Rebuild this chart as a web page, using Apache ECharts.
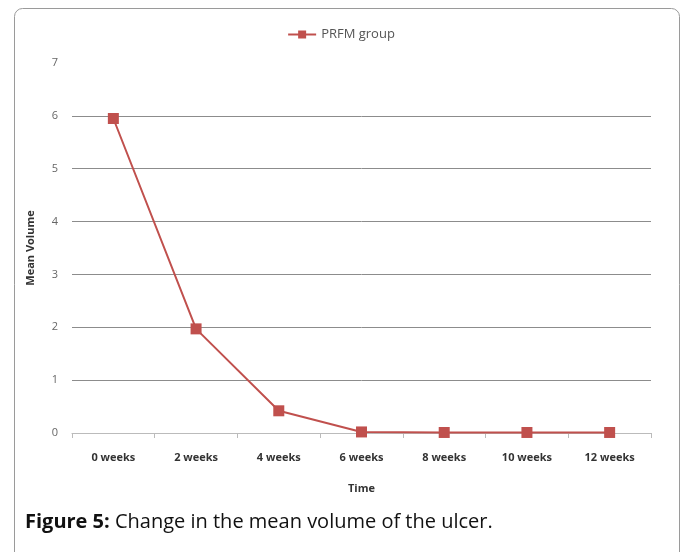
<!DOCTYPE html>
<html>
<head>
<meta charset="utf-8">
<script src="https://cdn.jsdelivr.net/npm/echarts@6/dist/echarts.min.js"></script>
<style>
  html, body { margin: 0; padding: 0; background: #fff; }
  #chart { width: 682px; height: 552px; }
</style>
</head>
<body>
<div id="chart"></div>
<script>
// data
const categories = ['0 weeks', '2 weeks', '4 weeks', '6 weeks', '8 weeks', '10 weeks', '12 weeks'];
const prfmValues = [5.95, 1.97, 0.42, 0.02, 0.01, 0.01, 0.01];
const seriesName = 'PRFM group';

const red = '#c0504d';
const font = '"Open Sans", "Liberation Sans", sans-serif';

const chart = echarts.init(document.getElementById('chart'), null, { renderer: 'canvas' });

chart.setOption({
  animation: false,
  textStyle: { fontFamily: font },
  graphic: [
    {
      // outer frame
      type: 'rect',
      shape: { x: 14.5, y: 8.5, width: 665, height: 600, r: 8 },
      style: { fill: 'none', stroke: '#9a9a9a', lineWidth: 1 },
      z: -1,
    },
  ],
  title: {
    left: 20,
    top: 507,
    text: '{b|Figure 5:} {n|Change in the mean volume of the ulcer.}',
    textStyle: {
      fontWeight: 'normal',
      fontSize: 20,
      color: '#111',
      rich: {
        b: { fontFamily: font, fontSize: 20, fontWeight: 'bold', color: '#111' },
        n: { fontFamily: font, fontSize: 20, fontWeight: 'normal', color: '#111' },
      },
    },
  },
  legend: {
    top: 23,
    left: 'center',
    itemWidth: 28,
    itemHeight: 10,
    itemGap: 4,
    data: [seriesName],
    textStyle: { fontFamily: font, fontSize: 13, color: '#555' },
  },
  grid: { left: 72, right: 31, top: 63, bottom: 119 },
  xAxis: {
    type: 'category',
    data: categories,
    boundaryGap: true,
    name: 'Time',
    nameLocation: 'middle',
    nameGap: 50,
    nameTextStyle: { fontFamily: font, fontSize: 11, fontWeight: 'bold', color: '#333' },
    axisLine: { lineStyle: { color: '#bbb' } },
    axisTick: { show: true, length: 5, lineStyle: { color: '#bbb' } },
    axisLabel: { margin: 19, fontFamily: font, fontSize: 11, fontWeight: 'bold', color: '#333' },
  },
  yAxis: {
    type: 'value',
    min: 0,
    max: 7,
    interval: 1,
    name: 'Mean Volume',
    nameLocation: 'middle',
    nameGap: 36,
    nameTextStyle: { fontFamily: font, fontSize: 11, fontWeight: 'bold', color: '#333' },
    axisLine: { show: false },
    axisTick: { show: false },
    axisLabel: { margin: 14, fontFamily: font, fontSize: 11, color: '#666' },
    splitLine: {
      show: true,
      lineStyle: {
        color: ['#bbb', '#8c8c8c', '#8c8c8c', '#8c8c8c', '#8c8c8c', '#8c8c8c', '#8c8c8c', 'rgba(0,0,0,0)'],
        width: 1,
      },
    },
  },
  series: [
    {
      name: seriesName,
      type: 'line',
      data: prfmValues,
      color: red,
      symbol: 'rect',
      symbolSize: 11,
      lineStyle: { color: red, width: 2 },
      itemStyle: { color: red },
    },
  ],
});
</script>
</body>
</html>
